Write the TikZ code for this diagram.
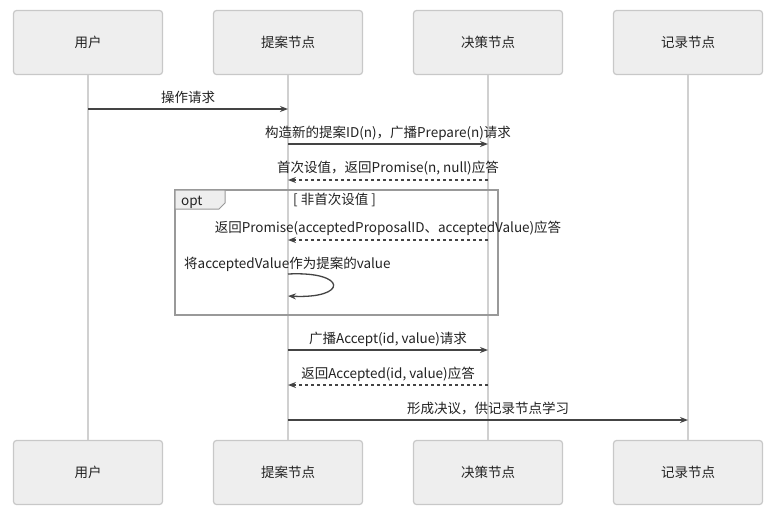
\documentclass[tikz,border=0pt]{standalone}
\usepackage{fontspec}
\setmainfont{Noto Sans CJK SC}
\usetikzlibrary{arrows.meta}
\definecolor{boxfill}{HTML}{EEEEEE}
\definecolor{boxline}{HTML}{C8C8C8}
\definecolor{lifeline}{HTML}{D0D0D0}
\definecolor{msg}{HTML}{444444}
\definecolor{txt}{HTML}{222222}
\definecolor{frame}{HTML}{999999}
\begin{document}
\begin{tikzpicture}[x=1pt,y=-1pt,
  actor/.style={draw=boxline,line width=1.2pt,fill=boxfill,rounded corners=3pt,minimum width=149pt,minimum height=64pt,inner sep=0pt,text=txt,font=\fontsize{13.5}{15}\selectfont},
  life/.style={draw=lifeline,line width=1.5pt},
  req/.style={draw=msg,line width=1.3pt,-{Stealth[length=8pt,width=6pt]}},
  resp/.style={req,dash pattern=on 3pt off 3pt},
  lbl/.style={text=txt,font=\fontsize{13.5}{15}\selectfont,inner sep=0pt,anchor=base}
]
\useasboundingbox (0,0) rectangle (772,515);
\fill[white] (0,0) rectangle (772,515);
% actor boxes
\node[actor] (ut) at (88,42.5) {用户};
\node[actor] (pt) at (288,42.5) {提案节点};
\node[actor] (at) at (488,42.5) {决策节点};
\node[actor] (lt) at (688,42.5) {记录节点};
\node[actor] (ub) at (88,472.5) {用户};
\node[actor] (pb) at (288,472.5) {提案节点};
\node[actor] (ab) at (488,472.5) {决策节点};
\node[actor] (lb) at (688,472.5) {记录节点};
% lifelines
\draw[life] (ut.south) -- (ub.north);
\draw[life] (pt.south) -- (pb.north);
\draw[life] (at.south) -- (ab.north);
\draw[life] (lt.south) -- (lb.north);
% opt frame
\draw[draw=frame,line width=1.5pt] (175,190) rectangle (498,315);
\draw[draw=frame,line width=1pt,fill=boxfill] (175,190) -- (225,190) -- (225,203) -- (219,209) -- (175,209) -- cycle;
\node[lbl,anchor=base west] (optl) at (181,205) {opt};
\node[lbl,anchor=base west] (guard) at (293,204) {[ 非首次设值 ]};
% message anchors
\coordinate (u1) at (88,109);  \coordinate (p1) at (288,109);
\coordinate (p2) at (288,144); \coordinate (a2) at (488,144);
\coordinate (a3) at (488,180); \coordinate (p3) at (288,180);
\coordinate (a4) at (488,240); \coordinate (p4) at (288,240);
\coordinate (p5s) at (288,274); \coordinate (p5e) at (288,296);
\coordinate (p6) at (288,350); \coordinate (a6) at (488,350);
\coordinate (a7) at (488,385); \coordinate (p7) at (288,385);
\coordinate (p8) at (288,420); \coordinate (l8) at (688,420);
% messages
\draw[req] (u1) -- (p1);
\node[lbl] (m1) at (188,102) {操作请求};
\draw[req] (p2) -- (a2);
\node[lbl] (m2) at (388,137) {构造新的提案ID(n)，广播Prepare(n)请求};
\draw[resp] (a3) -- (p3);
\node[lbl] (m3) at (388,172) {首次设值，返回Promise(n, null)应答};
\draw[resp] (a4) -- (p4);
\node[lbl] (m4) at (388,232) {返回Promise(acceptedProposalID、acceptedValue)应答};
\node[lbl,anchor=base west] (m5) at (184,268) {将acceptedValue作为提案的value};
\draw[req] (p5s) .. controls (348,271) and (348,299) .. (p5e);
\draw[req] (p6) -- (a6);
\node[lbl] (m6) at (388,343) {广播Accept(id, value)请求};
\draw[resp] (a7) -- (p7);
\node[lbl] (m7) at (388,378) {返回Accepted(id, value)应答};
\draw[req] (p8) -- (l8);
\node[lbl] (m8) at (488,413) {形成决议，供记录节点学习};
\end{tikzpicture}
\end{document}
